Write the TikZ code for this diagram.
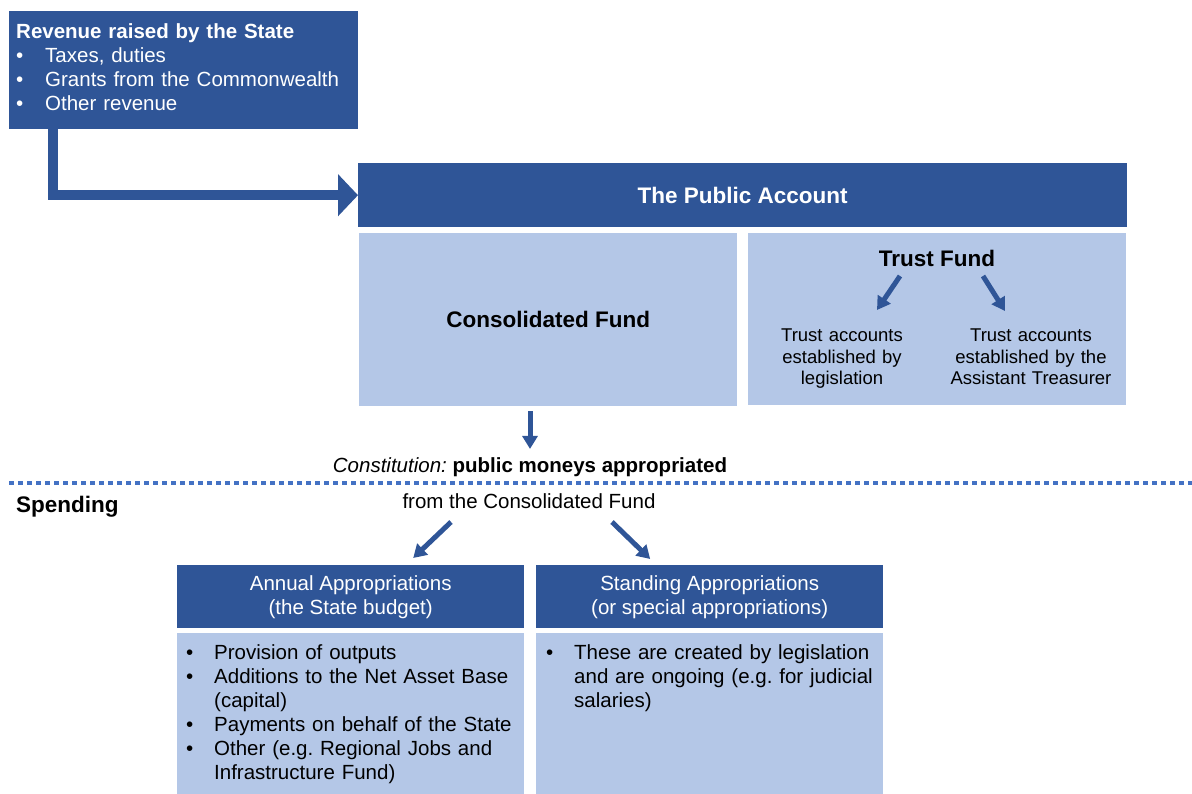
\documentclass[tikz,border=0pt]{standalone}
\usepackage{fontspec}
\setmainfont{Liberation Sans}
\usetikzlibrary{arrows.meta}
\frenchspacing

\definecolor{darkblue}{HTML}{2F5597}
\definecolor{lightblue}{HTML}{B4C7E7}
\definecolor{dotblue}{HTML}{4472C4}

\newcommand{\txtsize}{\fontsize{20.5pt}{24pt}\selectfont}
\newcommand{\bigsize}{\fontsize{22.5pt}{27pt}\selectfont\bfseries}
\newcommand{\smallsize}{\fontsize{18.5pt}{21.5pt}\selectfont}
\newcommand{\bul}{\makebox[28pt][l]{\textbullet}}
\newcommand{\ind}{\hspace*{28pt}}

\begin{document}
\begin{tikzpicture}[x=1pt, y=-1pt,
	dark/.style={shape=rectangle, fill=darkblue, inner sep=0pt, anchor=north west},
	light/.style={shape=rectangle, fill=lightblue, inner sep=0pt, anchor=north west},
	txt/.style={inner sep=0pt, anchor=base west, align=left},
	arr/.style={darkblue, line width=5pt, -{Triangle[width=15pt,length=13pt]}},
	bigarr/.style={darkblue, line width=10pt, -{Triangle[width=41pt,length=20pt]}}]
	
	\useasboundingbox (0,0) rectangle (1192,794);
	
	% revenue
	\node[dark, minimum width=349pt, minimum height=118pt] (revenue) at (9,11) {};
	\node[txt, text width=340pt, text=white, font=\txtsize] (revenuetext) at (16,38.5)
	{\textbf{Revenue raised by the State}\\
		\makebox[29pt][l]{\textbullet}Taxes, duties\\
		\makebox[29pt][l]{\textbullet}Grants from the Commonwealth\\
		\makebox[29pt][l]{\textbullet}Other revenue};
	
	% public account
	\node[dark, minimum width=769pt, minimum height=64pt, text=white, font=\bigsize] (public) at (358,163) {The Public Account};
	\node[light, minimum width=378pt, minimum height=173pt, font=\bigsize] (consolidated) at (359,233) {Consolidated Fund};
	\node[light, minimum width=378pt, minimum height=172pt] (trust) at (748,233) {};
	\node[inner sep=0pt, anchor=base, font=\bigsize] (trusttitle) at (937,267) {Trust Fund};
	\node[inner sep=0pt, anchor=base, align=center, text width=130pt, font=\smallsize] (bylaw) at (842,342)
	{Trust accounts\\established by\\legislation};
	\node[inner sep=0pt, anchor=base, align=center, text width=170pt, font=\smallsize] (bytreasurer) at (1031,342)
	{Trust accounts\\established by the\\Assistant Treasurer};
	
	\draw[bigarr] ([xshift=44pt]revenue.south west) |- (public.west);
	\draw[arr] ([xshift=-37pt,yshift=-9pt]trusttitle.base) -- ([xshift=35pt,yshift=32pt]bylaw.base);
	\draw[arr] ([xshift=46pt,yshift=-9pt]trusttitle.base) -- ([xshift=-26pt,yshift=31pt]bytreasurer.base);
	
	% constitution
	\node[inner sep=0pt, anchor=base, font=\txtsize] (constitution) at (530,472)
	{\textit{Constitution:} \textbf{public moneys appropriated}};
	\draw[dotblue, line width=4pt, dash pattern=on 4.5pt off 4.5pt] (9,483) -- (1192,483);
	\node[inner sep=0pt, anchor=base west, font=\bigsize] (spending) at (16,512) {Spending};
	\node[inner sep=0pt, anchor=base, font=\txtsize] (fromfund) at (529,508) {from the Consolidated Fund};
	
	\draw[arr] ([yshift=-5pt]consolidated.south -| constitution.north) -- ([yshift=8pt]constitution.north);
	
	% appropriations
	\node[dark, minimum width=347pt, minimum height=63pt, text=white, font=\txtsize, align=center] (annualhead) at (177,565)
	{Annual Appropriations\\(the State budget)};
	\node[dark, minimum width=347pt, minimum height=63pt, text=white, font=\txtsize, align=center] (standinghead) at (536,565)
	{Standing Appropriations\\(or special appropriations)};
	\node[light, minimum width=347pt, minimum height=161pt] (annualbody) at (177,633) {};
	\node[light, minimum width=347pt, minimum height=161pt] (standingbody) at (536,633) {};
	
	\node[txt, text width=330pt, font=\txtsize] (annualtext) at (186,659)
	{\bul Provision of outputs\\
		\bul Additions to the Net Asset Base\\
		\ind (capital)\\
		\bul Payments on behalf of the State\\
		\bul Other (e.g. Regional Jobs and\\
		\ind Infrastructure Fund)};
	\node[txt, text width=330pt, font=\txtsize] (standingtext) at (546,659)
	{\bul These are created by legislation\\
		\ind and are ongoing (e.g. for judicial\\
		\ind salaries)};
	
	\draw[arr] ([xshift=-78pt,yshift=-14pt]fromfund.base) -- ([xshift=62.5pt,yshift=7pt]annualhead.north);
	\draw[arr] ([xshift=83pt,yshift=-14pt]fromfund.base) -- ([xshift=-59.5pt,yshift=6pt]standinghead.north);
	
\end{tikzpicture}
\end{document}
